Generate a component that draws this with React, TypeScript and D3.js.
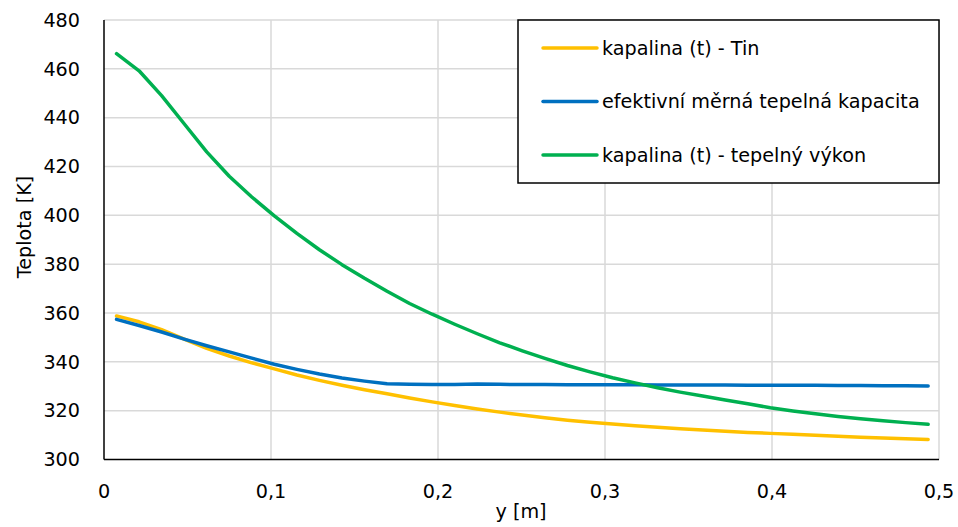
import React from "react";
import * as d3 from "d3";

const xValues = [0.0075, 0.021, 0.0345, 0.048, 0.0615, 0.075, 0.0885, 0.102, 0.1155, 0.129, 0.1425, 0.156, 0.1695, 0.183, 0.1965, 0.21, 0.2235, 0.237, 0.2505, 0.264, 0.2775, 0.291, 0.3045, 0.318, 0.3315, 0.345, 0.3585, 0.372, 0.3855, 0.399, 0.4125, 0.426, 0.4395, 0.453, 0.4665, 0.48, 0.4935];

const tinValues = [358.8, 356.4, 353.2, 349.3, 345.5, 342.4, 339.6, 337.1, 334.6, 332.4, 330.4, 328.6, 326.9, 325.2, 323.6, 322.1, 320.7, 319.4, 318.2, 317.1, 316.1, 315.3, 314.5, 313.8, 313.2, 312.6, 312.1, 311.6, 311.1, 310.7, 310.3, 309.9, 309.5, 309.1, 308.8, 308.5, 308.2];

const capValues = [357.4, 354.9, 352.2, 349.3, 346.6, 344.1, 341.5, 339.0, 336.9, 335.0, 333.4, 332.1, 331.0, 330.8, 330.7, 330.7, 330.9, 330.8, 330.7, 330.7, 330.6, 330.6, 330.6, 330.6, 330.5, 330.5, 330.5, 330.5, 330.4, 330.4, 330.4, 330.4, 330.3, 330.3, 330.2, 330.2, 330.1];

const powerValues = [466.2, 459.2, 449.0, 437.5, 426.0, 416.0, 407.5, 399.8, 392.6, 385.9, 379.8, 374.2, 368.9, 363.9, 359.5, 355.4, 351.5, 347.8, 344.5, 341.4, 338.5, 335.9, 333.5, 331.4, 329.4, 327.6, 326.0, 324.4, 322.8, 321.2, 319.9, 318.7, 317.6, 316.7, 315.9, 315.1, 314.4];

const xTicks = [0, 0.1, 0.2, 0.3, 0.4, 0.5];
const yTicks = [300, 320, 340, 360, 380, 400, 420, 440, 460, 480];

const seriesNames = ["kapalina (t) - Tin", "efektivní měrná tepelná kapacita", "kapalina (t) - tepelný výkon"];
const seriesColors = ["#FFC000", "#0070C0", "#00B050"];
const seriesData = [tinValues, capValues, powerValues];

const FONT = "'DejaVu Sans', sans-serif";
const FS = 19.2;

export default function App() {
  const W = 958, H = 527;
  const left = 104, right = 939, top = 20, bottom = 459.5;
  const x = d3.scaleLinear().domain([0, 0.5]).range([left, right]);
  const y = d3.scaleLinear().domain([300, 480]).range([bottom, top]);
  const line = d3.line<[number, number]>().x(d => x(d[0])).y(d => y(d[1]));
  const fmt = (v: number) => (v === 0 ? "0" : String(v).replace(".", ","));

  return (
    <svg width={W} height={H} style={{ position: "absolute", left: 0, top: 0 }} fontFamily={FONT}>
      <rect x={0} y={0} width={W} height={H} fill="#fff" />
      {yTicks.slice(1).map(t => (
        <line key={"gy" + t} x1={left} x2={right} y1={y(t)} y2={y(t)} stroke="#d9d9d9" strokeWidth={1.5} />
      ))}
      {xTicks.slice(1).map(t => (
        <line key={"gx" + t} x1={x(t)} x2={x(t)} y1={top} y2={bottom} stroke="#d9d9d9" strokeWidth={1.5} />
      ))}
      <line x1={left} x2={left} y1={top} y2={bottom} stroke="#000" strokeWidth={1.5} />
      <line x1={left} x2={right} y1={bottom} y2={bottom} stroke="#000" strokeWidth={1.5} />
      {yTicks.map(t => (
        <text key={"ty" + t} x={80} y={y(t)} dy="0.35em" textAnchor="end" fontSize={FS} fill="#000">{t}</text>
      ))}
      {xTicks.map(t => (
        <text key={"tx" + t} x={x(t)} y={498} textAnchor="middle" fontSize={FS} fill="#000">{fmt(t)}</text>
      ))}
      <text x={521} y={518} textAnchor="middle" fontSize={FS} fill="#000">y [m]</text>
      <text transform="translate(31,227) rotate(-90)" textAnchor="middle" fontSize={FS} fill="#000">Teplota [K]</text>
      {seriesData.map((vals, i) => (
        <path key={"s" + i} d={line(xValues.map((xv, j) => [xv, vals[j]]) as [number, number][]) || ""}
          fill="none" stroke={seriesColors[i]} strokeWidth={3.5} strokeLinejoin="round" strokeLinecap="round" />
      ))}
      <rect x={518} y={20} width={421} height={163} fill="#fff" stroke="#000" strokeWidth={1.5} />
      {seriesNames.map((n, i) => {
        const ly = 48 + i * 53.5;
        return (
          <g key={"lg" + i}>
            <line x1={543} x2={597} y1={ly} y2={ly} stroke={seriesColors[i]} strokeWidth={3.5} strokeLinecap="round" />
            <text x={602} y={ly} dy="0.35em" fontSize={FS} fill="#000">{n}</text>
          </g>
        );
      })}
    </svg>
  );
}
